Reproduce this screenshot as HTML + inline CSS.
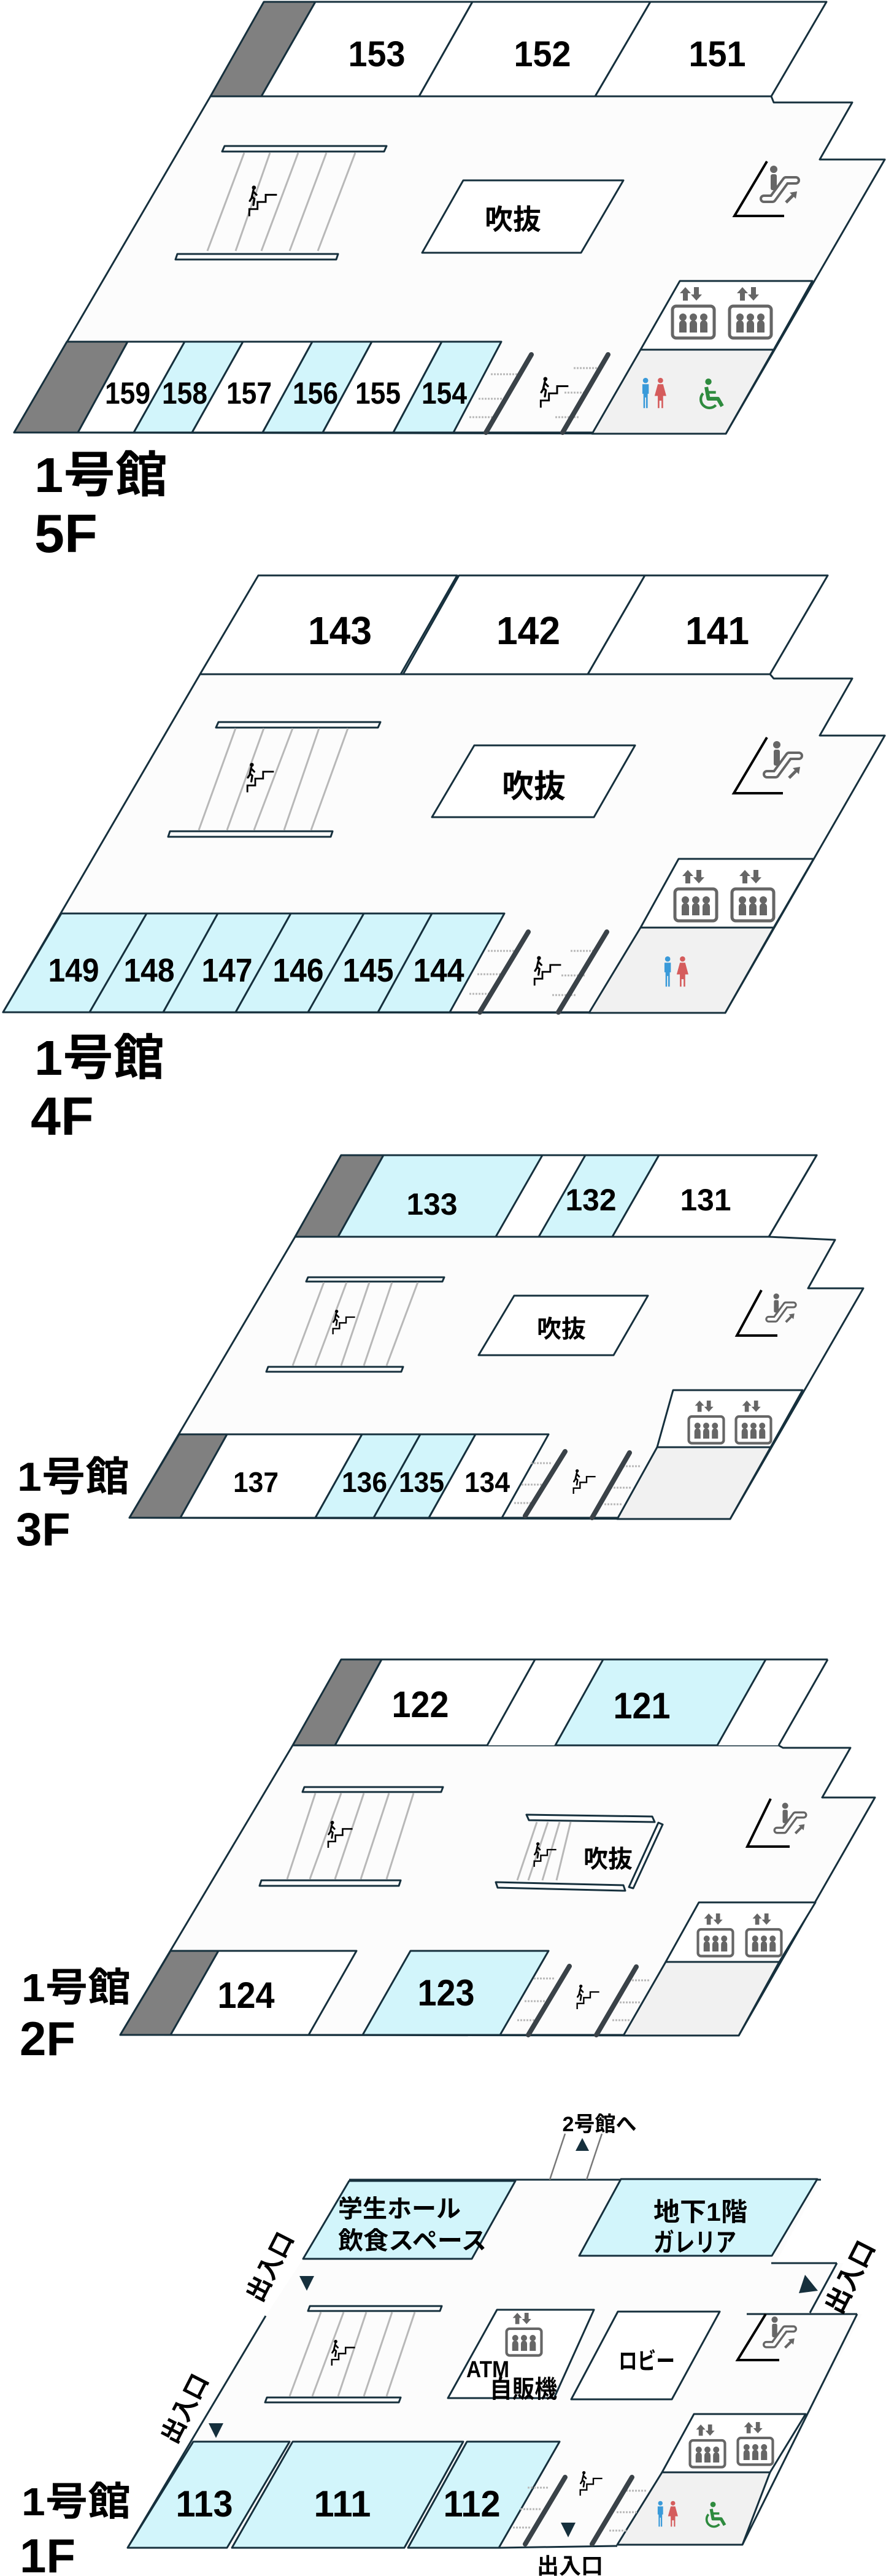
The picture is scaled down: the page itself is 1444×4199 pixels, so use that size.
<!DOCTYPE html>
<html><head><meta charset="utf-8">
<style>
html,body{margin:0;padding:0;background:#fff}
svg{display:block}
.r{stroke:#16303d;stroke-width:3;stroke-linejoin:round}
.w{fill:#fff}.b{fill:#d2f5fb}.g{fill:#808080}.l{fill:#f1f1f1}.f{fill:#fcfcfc}
.n{font-family:"Liberation Sans",sans-serif;font-weight:bold;text-anchor:middle;fill:#000}
.j{font-family:"Liberation Sans","Noto Sans CJK JP",sans-serif;font-weight:bold;fill:#000}
.h{stroke:#b8b8b8;stroke-width:3;fill:none}
.d{stroke:#3a4248;stroke-width:8;stroke-linecap:round}
.k{stroke:#000;stroke-width:4;fill:none}
</style></head><body>
<svg width="1444" height="4199" viewBox="0 0 1444 4199" xmlns="http://www.w3.org/2000/svg">
<defs>
<symbol id="elv" viewBox="0 0 74 86">
<polygon points="24,0 15,10 20,10 20,22 28,22 28,10 33,10" fill="#666"/>
<polygon points="42,22 33,12 38,12 38,0 46,0 46,12 51,12" fill="#666"/>
<rect x="3" y="31" width="68" height="52" rx="6" fill="#fff" stroke="#666" stroke-width="5"/>
<circle cx="20" cy="49" r="6" fill="#666"/><circle cx="37" cy="49" r="6" fill="#666"/><circle cx="54" cy="49" r="6" fill="#666"/>
<path d="M14,74V60a6,6 0 0 1 12,0V74ZM31,74V60a6,6 0 0 1 12,0V74ZM48,74V60a6,6 0 0 1 12,0V74Z" fill="#666"/>
</symbol>
<symbol id="esc" viewBox="0 0 72 66">
<circle cx="26" cy="6" r="6" fill="#666"/>
<rect x="21" y="14" width="10" height="26" rx="3" fill="#666"/>
<path d="M10,54 L24,54 L46,24 L62,24" stroke="#666" stroke-width="14" stroke-linecap="round" stroke-linejoin="round" fill="none"/>
<path d="M10,54 L24,54 L46,24 L62,24" stroke="#fcfcfc" stroke-width="6" stroke-linecap="round" stroke-linejoin="round" fill="none"/>
<path d="M46,60 L60,46" stroke="#666" stroke-width="5"/><polygon points="64,42 52,44 62,54" fill="#666"/>
</symbol>
<symbol id="stm" viewBox="0 0 60 60">
<polyline points="4,60 4,46 20,46 20,32 36,32 36,18 58,18" stroke="#000" stroke-width="3.5" fill="none"/>
<circle cx="13" cy="4" r="4"/>
<path d="M12,9 L9,22 L14,26 L12,38 M10,22 L5,30 M12,12 L18,18" stroke="#000" stroke-width="4" fill="none" stroke-linecap="round"/>
</symbol>
<symbol id="wc" viewBox="0 0 60 60">
<circle cx="14" cy="6" r="5" fill="#3a9ad9"/>
<path d="M8,13h12v18h-2v27h-3v-20h-2v20h-3v-27h-2z" fill="#3a9ad9"/>
<circle cx="42" cy="6" r="5" fill="#d55c5c"/>
<path d="M37,13h10l6,22h-6v23h-3v-14h-4v14h-3v-23h-6z" fill="#d55c5c"/>
</symbol>
<symbol id="whl" viewBox="0 0 60 60">
<circle cx="26" cy="6" r="6" fill="#2e8b3e"/>
<path d="M22,16 L26,38 L44,38 L52,52" stroke="#2e8b3e" stroke-width="7" fill="none" stroke-linejoin="round"/>
<path d="M26,26 L40,26" stroke="#2e8b3e" stroke-width="5"/>
<path d="M16,28 A16,16 0 1 0 40,50" stroke="#2e8b3e" stroke-width="5" fill="none"/>
</symbol>
</defs>

<!-- ================= 5F ================= -->
<polygon class="r f" points="343,157 1257,157 1261,167 1389,167 1336,260 1442,260 1183,707 23,705"/>
<polygon class="r g" points="430,3 514,3 426,157 343,157"/>
<polygon class="r w" points="514,3 770,3 683,157 426,157"/>
<polygon class="r w" points="770,3 1060,3 970,157 683,157"/>
<polygon class="r w" points="1060,3 1347,3 1257,157 970,157"/>
<text class="n" x="614" y="108" font-size="58" textLength="93" lengthAdjust="spacingAndGlyphs">153</text>
<text class="n" x="884" y="108" font-size="58" textLength="93" lengthAdjust="spacingAndGlyphs">152</text>
<text class="n" x="1169" y="108" font-size="58" textLength="93" lengthAdjust="spacingAndGlyphs">151</text>
<polygon class="r w" points="366,238 630,238 626,247 362,247" stroke-width="2.5"/>
<polygon class="r w" points="289,414 551,414 548,423 286,423" stroke-width="2.5"/>
<path class="h" d="M398,249L338,409M440,249L384,409M486,249L426,409M532,249L472,409M579,249L518,409"/>
<use href="#stm" x="403" y="300" width="50" height="55"/>
<polygon class="r w" points="755,294 1016,294 947,412 688,412"/>
<text class="j" x="836" y="374" font-size="46" text-anchor="middle">吹抜</text>
<path class="k" d="M1250,263 L1197,352 L1278,352"/>
<use href="#esc" x="1235" y="270" width="72" height="66"/>
<polygon class="r w" points="1108,458 1324,458 1261,570 1044,570"/>
<use href="#elv" x="1093" y="468" width="74" height="86"/>
<use href="#elv" x="1186" y="468" width="74" height="86"/>
<polygon class="r l" points="1044,570 1261,570 1183,707 965,707"/>
<use href="#wc" x="1040" y="612" width="52" height="58"/>
<use href="#whl" x="1132" y="615" width="52" height="56"/>
<polygon class="r g" points="109,557 208,557 127,705 23,705"/>
<polygon class="r w" points="208,557 301,557 218,705 127,705"/>
<polygon class="r b" points="301,557 396,557 313,705 218,705"/>
<polygon class="r w" points="396,557 509,557 428,705 313,705"/>
<polygon class="r b" points="509,557 606,557 526,705 428,705"/>
<polygon class="r w" points="606,557 720,557 641,705 526,705"/>
<polygon class="r b" points="720,557 817,557 739,705 641,705"/>
<line class="r" x1="739" y1="705" x2="965" y2="705"/>
<path class="h" d="M800,610h45M780,650h45M765,680h40M935,600h40M920,640h40M905,680h40" stroke-dasharray="3 2"/>
<line class="d" x1="866" y1="578" x2="792" y2="705"/><line class="d" x1="991" y1="578" x2="917" y2="705"/>
<use href="#stm" x="878" y="612" width="50" height="55"/>
<text class="n" x="208" y="658" font-size="50" textLength="74" lengthAdjust="spacingAndGlyphs">159</text>
<text class="n" x="301" y="658" font-size="50" textLength="74" lengthAdjust="spacingAndGlyphs">158</text>
<text class="n" x="406" y="658" font-size="50" textLength="74" lengthAdjust="spacingAndGlyphs">157</text>
<text class="n" x="514" y="658" font-size="50" textLength="74" lengthAdjust="spacingAndGlyphs">156</text>
<text class="n" x="616" y="658" font-size="50" textLength="74" lengthAdjust="spacingAndGlyphs">155</text>
<text class="n" x="724" y="658" font-size="50" textLength="74" lengthAdjust="spacingAndGlyphs">154</text>
<text class="j" x="56" y="802" font-size="80" textLength="217" lengthAdjust="spacingAndGlyphs">1号館</text>
<text class="j" x="56" y="900" font-size="88">5F</text>

<!-- ================= 4F ================= -->
<polygon class="r f" points="326,1099 1255,1099 1261,1106 1389,1106 1336,1199 1442,1199 1182,1651 5,1650"/>
<polygon class="r w" points="421,938 745,938 653,1099 326,1099"/>
<polygon class="r w" points="748,938 1051,938 958,1099 657,1099"/>
<polygon class="r w" points="1051,938 1349,938 1255,1099 958,1099"/>
<text class="n" x="554" y="1050" font-size="64" textLength="104" lengthAdjust="spacingAndGlyphs">143</text>
<text class="n" x="861" y="1050" font-size="64" textLength="104" lengthAdjust="spacingAndGlyphs">142</text>
<text class="n" x="1169" y="1050" font-size="64" textLength="104" lengthAdjust="spacingAndGlyphs">141</text>
<polygon class="r w" points="356,1177 620,1177 616,1186 352,1186" stroke-width="2.5"/>
<polygon class="r w" points="277,1355 542,1355 539,1364 274,1364" stroke-width="2.5"/>
<path class="h" d="M384,1187L324,1353M430,1187L370,1353M477,1187L414,1353M520,1187L463,1353M567,1187L507,1353"/>
<use href="#stm" x="400" y="1240" width="48" height="55"/>
<polygon class="r w" points="773,1215 1035,1215 968,1332 704,1332"/>
<text class="j" x="870" y="1300" font-size="52" text-anchor="middle">吹抜</text>
<path class="k" d="M1250,1202 L1196,1293 L1276,1293"/>
<use href="#esc" x="1240" y="1208" width="72" height="66"/>
<polygon class="r w" points="1106,1400 1326,1400 1261,1512 1044,1512"/>
<use href="#elv" x="1097" y="1418" width="74" height="86"/>
<use href="#elv" x="1190" y="1418" width="74" height="86"/>
<polygon class="r l" points="1044,1512 1261,1512 1182,1651 960,1651"/>
<use href="#wc" x="1076" y="1555" width="52" height="58"/>
<polygon class="r b" points="100,1489 239,1489 146,1650 5,1650"/>
<polygon class="r b" points="239,1489 355,1489 266,1650 146,1650"/>
<polygon class="r b" points="355,1489 474,1489 384,1650 266,1650"/>
<polygon class="r b" points="474,1489 593,1489 502,1650 384,1650"/>
<polygon class="r b" points="593,1489 704,1489 616,1650 502,1650"/>
<polygon class="r b" points="704,1489 822,1489 733,1650 616,1650"/>
<line class="r" x1="733" y1="1650" x2="960" y2="1650"/>
<path class="h" d="M795,1550h45M778,1588h45M765,1620h40M930,1550h40M915,1590h40M900,1622h40" stroke-dasharray="3 2"/>
<line class="d" x1="861" y1="1519" x2="782" y2="1650"/><line class="d" x1="989" y1="1519" x2="910" y2="1650"/>
<use href="#stm" x="868" y="1555" width="48" height="55"/>
<text class="n" x="120" y="1600" font-size="54" textLength="83" lengthAdjust="spacingAndGlyphs">149</text>
<text class="n" x="243" y="1600" font-size="54" textLength="83" lengthAdjust="spacingAndGlyphs">148</text>
<text class="n" x="370" y="1600" font-size="54" textLength="83" lengthAdjust="spacingAndGlyphs">147</text>
<text class="n" x="486" y="1600" font-size="54" textLength="83" lengthAdjust="spacingAndGlyphs">146</text>
<text class="n" x="600" y="1600" font-size="54" textLength="83" lengthAdjust="spacingAndGlyphs">145</text>
<text class="n" x="715" y="1600" font-size="54" textLength="83" lengthAdjust="spacingAndGlyphs">144</text>
<text class="j" x="56" y="1752" font-size="80" textLength="212" lengthAdjust="spacingAndGlyphs">1号館</text>
<text class="j" x="50" y="1850" font-size="88">4F</text>

<!-- ================= 3F ================= -->
<polygon class="r f" points="481,2016 1253,2016 1361,2021 1317,2100 1407,2100 1190,2476 211,2474"/>
<line class="r" x1="556" y1="1883" x2="1331" y2="1883"/>
<polygon class="r w" points="1331,1883 1253,2016 481,2016 556,1883" stroke="none"/>
<line class="r" x1="556" y1="1883" x2="1331" y2="1883"/>
<line class="r" x1="1331" y1="1883" x2="1253" y2="2016"/>
<polygon class="r g" points="556,1883 625,1883 551,2016 481,2016"/>
<polygon class="r b" points="625,1883 884,1883 808,2016 551,2016"/>
<polygon class="r b" points="954,1883 1074,1883 998,2016 878,2016"/>
<polygon class="r w" points="1074,1883 1331,1883 1253,2016 998,2016"/>
<line class="r" x1="481" y1="2016" x2="1253" y2="2016"/>
<text class="n" x="704" y="1980" font-size="50" textLength="83" lengthAdjust="spacingAndGlyphs">133</text>
<text class="n" x="963" y="1973" font-size="50" textLength="83" lengthAdjust="spacingAndGlyphs">132</text>
<text class="n" x="1150" y="1973" font-size="50" textLength="83" lengthAdjust="spacingAndGlyphs">131</text>
<polygon class="r w" points="502,2082 724,2082 721,2089 499,2089" stroke-width="2.5"/>
<polygon class="r w" points="437,2228 657,2228 654,2236 434,2236" stroke-width="2.5"/>
<path class="h" d="M528,2090L477,2226M565,2090L514,2226M602,2090L556,2226M639,2090L593,2226M681,2090L630,2226"/>
<use href="#stm" x="540" y="2133" width="40" height="44"/>
<polygon class="r w" points="838,2112 1056,2112 1000,2209 780,2209"/>
<text class="j" x="915" y="2180" font-size="40" text-anchor="middle">吹抜</text>
<path class="k" d="M1241,2103 L1201,2177 L1267,2177"/>
<use href="#esc" x="1245" y="2108" width="56" height="52"/>
<polygon class="r w" points="1097,2266 1308,2266 1256,2359 1071,2359"/>
<use href="#elv" x="1120" y="2283" width="62" height="72"/>
<use href="#elv" x="1197" y="2283" width="62" height="72"/>
<polygon class="r l" points="1071,2359 1256,2359 1190,2476 1006,2476"/>
<polygon class="r g" points="292,2338 370,2338 294,2474 211,2474"/>
<polygon class="r w" points="370,2338 590,2338 514,2474 294,2474"/>
<polygon class="r b" points="590,2338 685,2338 609,2474 514,2474"/>
<polygon class="r b" points="685,2338 775,2338 699,2474 609,2474"/>
<polygon class="r w" points="775,2338 894,2338 818,2474 699,2474"/>
<line class="r" x1="818" y1="2474" x2="1006" y2="2474"/>
<path class="h" d="M865,2385h35M850,2420h35M838,2450h30M1010,2390h35M995,2425h35M985,2452h30" stroke-dasharray="3 2"/>
<line class="d" x1="921" y1="2366" x2="856" y2="2471"/><line class="d" x1="1026" y1="2368" x2="965" y2="2474"/>
<use href="#stm" x="932" y="2393" width="40" height="44"/>
<text class="n" x="417" y="2432" font-size="46" textLength="74" lengthAdjust="spacingAndGlyphs">137</text>
<text class="n" x="594" y="2432" font-size="46" textLength="74" lengthAdjust="spacingAndGlyphs">136</text>
<text class="n" x="687" y="2432" font-size="46" textLength="74" lengthAdjust="spacingAndGlyphs">135</text>
<text class="n" x="794" y="2432" font-size="46" textLength="74" lengthAdjust="spacingAndGlyphs">134</text>
<text class="j" x="28" y="2430" font-size="66" textLength="183" lengthAdjust="spacingAndGlyphs">1号館</text>
<text class="j" x="26" y="2519" font-size="76">3F</text>

<!-- ================= 2F ================= -->
<polygon class="r f" points="477,2845 1269,2845 1276,2849 1386,2849 1340,2930 1426,2930 1204,3318 196,3317"/>
<polygon class="w" points="556,2705 1349,2705 1269,2845 477,2845"/>
<line class="r" x1="556" y1="2705" x2="1349" y2="2705"/>
<line class="r" x1="1349" y1="2705" x2="1269" y2="2845"/>
<polygon class="r g" points="556,2705 622,2705 546,2845 477,2845"/>
<polygon class="r w" points="622,2705 872,2705 794,2845 546,2845"/>
<polygon class="r b" points="983,2705 1248,2705 1169,2845 905,2845"/>
<text class="n" x="685" y="2799" font-size="60" textLength="93" lengthAdjust="spacingAndGlyphs">122</text>
<text class="n" x="1046" y="2801" font-size="60" textLength="93" lengthAdjust="spacingAndGlyphs">121</text>
<polygon class="r w" points="496,2913 722,2913 719,2921 493,2921" stroke-width="2.5"/>
<polygon class="r w" points="426,3065 653,3065 650,3074 423,3074" stroke-width="2.5"/>
<path class="h" d="M514,2923L468,3063M556,2923L505,3063M593,2923L546,3063M634,2923L588,3063M674,2923L630,3063"/>
<use href="#stm" x="532" y="2965" width="44" height="50"/>
<polygon class="r w" points="858,2958 1063,2961 1067,2970 862,2967" stroke-width="2.5"/>
<polygon class="r w" points="1073,2971 1080,2974 1032,3078 1025,3076" stroke-width="2.5"/>
<polygon class="r w" points="808,3068 1016,3073 1019,3082 811,3077" stroke-width="2.5"/>
<path class="h" d="M875,2970L843,3065M893,2970L861,3065M912,2970L884,3065M930,2970L907,3065"/>
<use href="#stm" x="868" y="3000" width="40" height="46"/>
<text class="j" x="991" y="3044" font-size="40" text-anchor="middle">吹抜</text>
<path class="k" d="M1256,2932 L1218,3010 L1287,3010"/>
<use href="#esc" x="1258" y="2938" width="60" height="56"/>
<polygon class="r w" points="1139,3101 1329,3101 1270,3198 1085,3198"/>
<use href="#elv" x="1135" y="3119" width="62" height="72"/>
<use href="#elv" x="1214" y="3119" width="62" height="72"/>
<polygon class="r l" points="1085,3198 1270,3198 1204,3318 1016,3318"/>
<polygon class="r g" points="278,3180 356,3180 278,3317 196,3317"/>
<polygon class="r w" points="356,3180 581,3180 503,3317 278,3317"/>
<polygon class="r b" points="669,3180 894,3180 815,3317 591,3317"/>
<line class="r" x1="503" y1="3317" x2="591" y2="3317"/>
<line class="r" x1="815" y1="3317" x2="1016" y2="3317"/>
<path class="h" d="M870,3225h35M855,3262h35M843,3293h30M1025,3228h35M1010,3264h35M998,3293h30" stroke-dasharray="3 2"/>
<line class="d" x1="928" y1="3205" x2="861" y2="3317"/><line class="d" x1="1037" y1="3206" x2="972" y2="3317"/>
<use href="#stm" x="938" y="3233" width="40" height="44"/>
<text class="n" x="401" y="3273" font-size="60" textLength="93" lengthAdjust="spacingAndGlyphs">124</text>
<text class="n" x="727" y="3269" font-size="60" textLength="93" lengthAdjust="spacingAndGlyphs">123</text>
<text class="j" x="35" y="3262" font-size="64" textLength="178" lengthAdjust="spacingAndGlyphs">1号館</text>
<text class="j" x="32" y="3350" font-size="78">2F</text>

<!-- ================= 1F ================= -->
<polygon class="f" points="569,3553 1338,3553 1264,3689 1375,3689 1331,3769 1405,3772 1210,4148 208,4153 315,3980 433,3775 494,3682"/>
<line class="r" x1="569" y1="3553" x2="1338" y2="3553"/>
<line class="r" x1="433" y1="3775" x2="208" y2="4153"/>
<line class="r" x1="1257" y1="3689" x2="1364" y2="3689"/>
<line class="r" x1="1364" y1="3689" x2="1320" y2="3770"/>
<line class="r" x1="1217" y1="3772" x2="1397" y2="3772"/>
<line class="r" x1="1397" y1="3772" x2="1210" y2="4148"/>
<line x1="921" y1="3478" x2="896" y2="3553" stroke="#777" stroke-width="2.5"/>
<line x1="981" y1="3478" x2="956" y2="3553" stroke="#777" stroke-width="2.5"/>
<text class="j" x="977" y="3474" font-size="34" text-anchor="middle">2号館へ</text>
<polygon points="949,3485 938,3506 960,3506" fill="#16303d"/>
<polygon class="r b" points="569,3555 840,3555 769,3682 494,3682"/>
<text class="j" x="551" y="3614" font-size="40">学生ホール</text>
<text class="j" x="551" y="3666" font-size="40" textLength="242" lengthAdjust="spacingAndGlyphs">飲食スペース</text>
<polygon class="r b" points="1012,3552 1332,3552 1258,3677 944,3677"/>
<text class="j" x="1065" y="3620" font-size="42" textLength="153" lengthAdjust="spacingAndGlyphs">地下1階</text>
<text class="j" x="1065" y="3670" font-size="42" textLength="135" lengthAdjust="spacingAndGlyphs">ガレリア</text>
<text class="j" font-size="40" transform="translate(440,3695) rotate(-63)" text-anchor="middle" dy="14">出入口</text>
<polygon points="488,3710 512,3710 500,3734" fill="#16303d"/>
<text class="j" font-size="40" transform="translate(301,3926) rotate(-63)" text-anchor="middle" dy="14">出入口</text>
<polygon points="340,3950 364,3950 352,3974" fill="#16303d"/>
<text class="j" font-size="42" transform="translate(1386,3712) rotate(-63)" text-anchor="middle" dy="14">出入口</text>
<polygon points="1312,3708 1333,3734 1302,3738" fill="#16303d"/>
<polygon class="r w" points="505,3759 720,3759 717,3767 502,3767" stroke-width="2.5"/>
<polygon class="r w" points="435,3908 653,3908 650,3916 432,3916" stroke-width="2.5"/>
<path class="h" d="M523,3769L472,3906M560,3769L509,3906M597,3769L551,3906M639,3769L593,3906M676,3769L630,3906"/>
<use href="#stm" x="538" y="3812" width="42" height="46"/>
<polygon class="r w" points="810,3765 968,3765 903,3909 730,3909"/>
<use href="#elv" x="823" y="3770" width="62" height="72"/>
<text class="j" x="760" y="3875" font-size="38" textLength="70" lengthAdjust="spacingAndGlyphs">ATM</text>
<text class="j" x="798" y="3908" font-size="40" textLength="110" lengthAdjust="spacingAndGlyphs">自販機</text>
<polygon class="r w" points="1007,3768 1173,3768 1095,3911 931,3911"/>
<text class="j" x="1054" y="3862" font-size="38" text-anchor="middle" textLength="92" lengthAdjust="spacingAndGlyphs">ロビー</text>
<path class="k" d="M1248,3772 L1202,3847 L1270,3847"/>
<use href="#esc" x="1240" y="3776" width="62" height="56"/>
<polygon class="r w" points="1131,3935 1313,3935 1255,4030 1079,4030"/>
<use href="#elv" x="1122" y="3952" width="62" height="72"/>
<use href="#elv" x="1200" y="3948" width="62" height="72"/>
<polygon class="r l" points="1079,4030 1255,4030 1210,4148 1006,4148"/>
<use href="#wc" x="1066" y="4073" width="44" height="50"/>
<use href="#whl" x="1143" y="4076" width="44" height="48"/>
<polygon class="r b" points="315,3980 472,3980 370,4153 208,4153"/>
<polygon class="r b" points="477,3980 755,3980 659,4153 378,4153"/>
<polygon class="r b" points="761,3980 912,3980 813,4153 665,4153"/>
<line class="r" x1="813" y1="4153" x2="1006" y2="4150"/>
<path class="h" d="M860,4055h35M848,4090h35M836,4120h30M1020,4060h35M1005,4095h35M993,4125h30" stroke-dasharray="3 2"/>
<line class="d" x1="921" y1="4038" x2="856" y2="4147"/><line class="d" x1="1030" y1="4038" x2="965" y2="4147"/>
<use href="#stm" x="943" y="4025" width="40" height="46"/>
<polygon points="914,4112 938,4112 926,4136" fill="#16303d"/>
<text class="j" x="929" y="4195" font-size="36" text-anchor="middle">出入口</text>
<text class="n" x="333" y="4102" font-size="60" textLength="93" lengthAdjust="spacingAndGlyphs">113</text>
<text class="n" x="558" y="4102" font-size="60" textLength="93" lengthAdjust="spacingAndGlyphs">111</text>
<text class="n" x="769" y="4102" font-size="60" textLength="93" lengthAdjust="spacingAndGlyphs">112</text>
<text class="j" x="35" y="4100" font-size="64" textLength="178" lengthAdjust="spacingAndGlyphs">1号館</text>
<text class="j" x="32" y="4193" font-size="78">1F</text>
</svg>
</body></html>
